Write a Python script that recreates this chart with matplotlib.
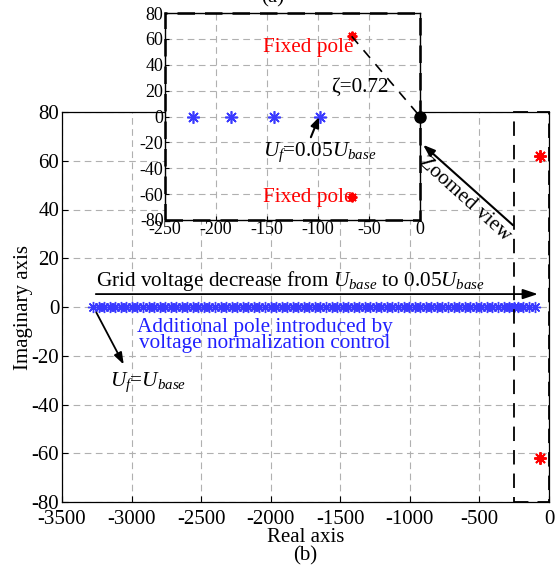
import matplotlib
matplotlib.use('agg')
import matplotlib.pyplot as plt
from matplotlib.patches import Rectangle

plt.rcParams['font.family'] = ['Liberation Serif', 'DejaVu Serif']
plt.rcParams['mathtext.fontset'] = 'custom'
plt.rcParams['mathtext.rm'] = 'Liberation Serif'
plt.rcParams['mathtext.it'] = 'Liberation Serif:italic'
plt.rcParams['axes.unicode_minus'] = False

# additional pole trajectory as grid voltage decreases (real parts, imag = 0)
pole_real = [-3277, -3237, -3197, -3157, -3117, -3078, -3038, -2998, -2958, -2918,
             -2878, -2838, -2799, -2759, -2719, -2679, -2639, -2599, -2559, -2520,
             -2480, -2440, -2400, -2360, -2320, -2280, -2241, -2201, -2161, -2121,
             -2081, -2041, -2001, -1962, -1922, -1882, -1842, -1802, -1762, -1722,
             -1683, -1643, -1603, -1563, -1523, -1483, -1443, -1404, -1364, -1324,
             -1284, -1244, -1204, -1164, -1125, -1085, -1045, -1005, -965, -925,
             -885, -846, -806, -766, -726, -686, -646, -606, -567, -527,
             -487, -447, -407, -367, -327, -288, -248, -223, -185, -143, -98]
# last few poles seen in the zoomed view
zoom_real = [-223, -185, -143, -98]
fixed_real = [-67, -67]
fixed_imag = [62, -62]

ast = (8, 2, 0)  # asterisk marker

fig = plt.figure(figsize=(5.57, 5.69), dpi=100)
ax = fig.add_axes([62 / 557, 1 - 502 / 569, 487 / 557, 390 / 569])

grid_kw = dict(color='#b0b0b0', linestyle=(0, (6, 4)), linewidth=0.8)
ax.grid(True, **grid_kw)
ax.plot(pole_real, [0] * len(pole_real), linestyle='none', marker=ast,
        color='#3a3aff', markersize=8, markeredgewidth=1.0)
ax.plot(fixed_real, fixed_imag, linestyle='none', marker=ast, color='red',
        markersize=9, markeredgewidth=1.4)
ax.set_xlim(-3500, 0)
ax.set_ylim(-80, 80)
ax.set_xticks(range(-3500, 1, 500))
ax.set_yticks(range(-80, 81, 20))
ax.tick_params(direction='in', labelsize=15, length=4)
ax.tick_params(axis='x', pad=6)
ax.tick_params(axis='y', pad=2)
ax.set_xlabel('Real axis', fontsize=15, labelpad=-1)
ax.set_ylabel('Imaginary axis', fontsize=15, labelpad=-1)
for s in ax.spines.values():
    s.set_linewidth(0.9)

ax.add_patch(Rectangle((-250, -80), 250, 160, fill=False, edgecolor='black',
                       linestyle=(0, (8, 5)), linewidth=1.3, clip_on=False, zorder=5))

ax.annotate('', xy=(-60, 5.3), xytext=(-3277, 5.3),
            arrowprops=dict(arrowstyle='-|>,head_length=0.9,head_width=0.3',
                            color='black', lw=1.3))
ax.text(-1861, 10.8, r'Grid voltage decrease from $U_{base}$ to 0.05$U_{base}$',
        ha='center', va='center', fontsize=15.3)
ax.text(-2041, -11.7, 'Additional pole introduced by\nvoltage normalization control',
        ha='center', va='center', fontsize=15.3, color='#2020ff', linespacing=0.8)
ax.annotate('', xy=(-3047, -24.6), xytext=(-3263, -1.2),
            arrowprops=dict(arrowstyle='-|>,head_length=0.7,head_width=0.25',
                            color='black', lw=1.3))
ax.text(-2882, -31, r'$U_f$=$U_{base}$', ha='center', va='center', fontsize=15.3)
ax.annotate('', xy=(-920, 67.3), xytext=(-244, 32.8),
            arrowprops=dict(arrowstyle='-|>,head_length=0.7,head_width=0.25',
                            color='black', lw=1.5))
ax.text(-604, 44.3, 'Zoomed view', ha='center', va='center', fontsize=15.3,
        rotation=-42, rotation_mode='anchor')

# inset (a)
ins = fig.add_axes([165 / 557, 1 - 220 / 569, 255 / 557, 207 / 569])
ins.set_facecolor('white')
ins.grid(True, **grid_kw)
ins.plot(zoom_real, [0] * len(zoom_real), linestyle='none', marker=ast,
         color='#3a3aff', markersize=9, markeredgewidth=1.2)
ins.plot(fixed_real, fixed_imag, linestyle='none', marker=ast, color='red',
         markersize=7, markeredgewidth=1.4)
ins.plot([fixed_real[0], 0], [fixed_imag[0], 0], color='black',
         linestyle=(0, (6, 5)), linewidth=1.2)
ins.plot([0], [0], marker='o', color='black', markersize=8, clip_on=False, zorder=6)
ins.set_xlim(-250, 0)
ins.set_ylim(-80, 80)
ins.set_xticks(range(-250, 1, 50))
ins.set_yticks(range(-80, 81, 20))
ins.tick_params(direction='in', labelsize=13, length=3, pad=1)
for s in ins.spines.values():
    s.set_linewidth(1.0)
ins.add_patch(Rectangle((-250, -80), 250, 160, fill=False, edgecolor='black',
                        transform=ins.transData, linestyle=(0, (7, 4)),
                        linewidth=1.8, clip_on=False, zorder=5))
ins.text(-65, 53, 'Fixed pole', ha='right', va='center', fontsize=15.3, color='red')
ins.text(-65, -62.6, 'Fixed pole', ha='right', va='center', fontsize=15.3, color='red')
ins.text(-59, 22.4, 'ζ=0.72', ha='center', va='center', fontsize=15.3)
ins.annotate('', xy=(-98, 1.5), xytext=(-108, -18),
             arrowprops=dict(arrowstyle='-|>,head_length=0.6,head_width=0.25',
                             color='black', lw=1.5))
ins.text(-98, -28, r'$U_f$=0.05$U_{base}$', ha='center', va='center', fontsize=15.3)

fig.text(273 / 557, 1.004, '(a)', ha='center', va='center', fontsize=15)
fig.text(305 / 557, 1 - 556 / 569, '(b)', ha='center', va='center', fontsize=15)

fig.savefig('out.png', dpi=100)
plt.close(fig)
